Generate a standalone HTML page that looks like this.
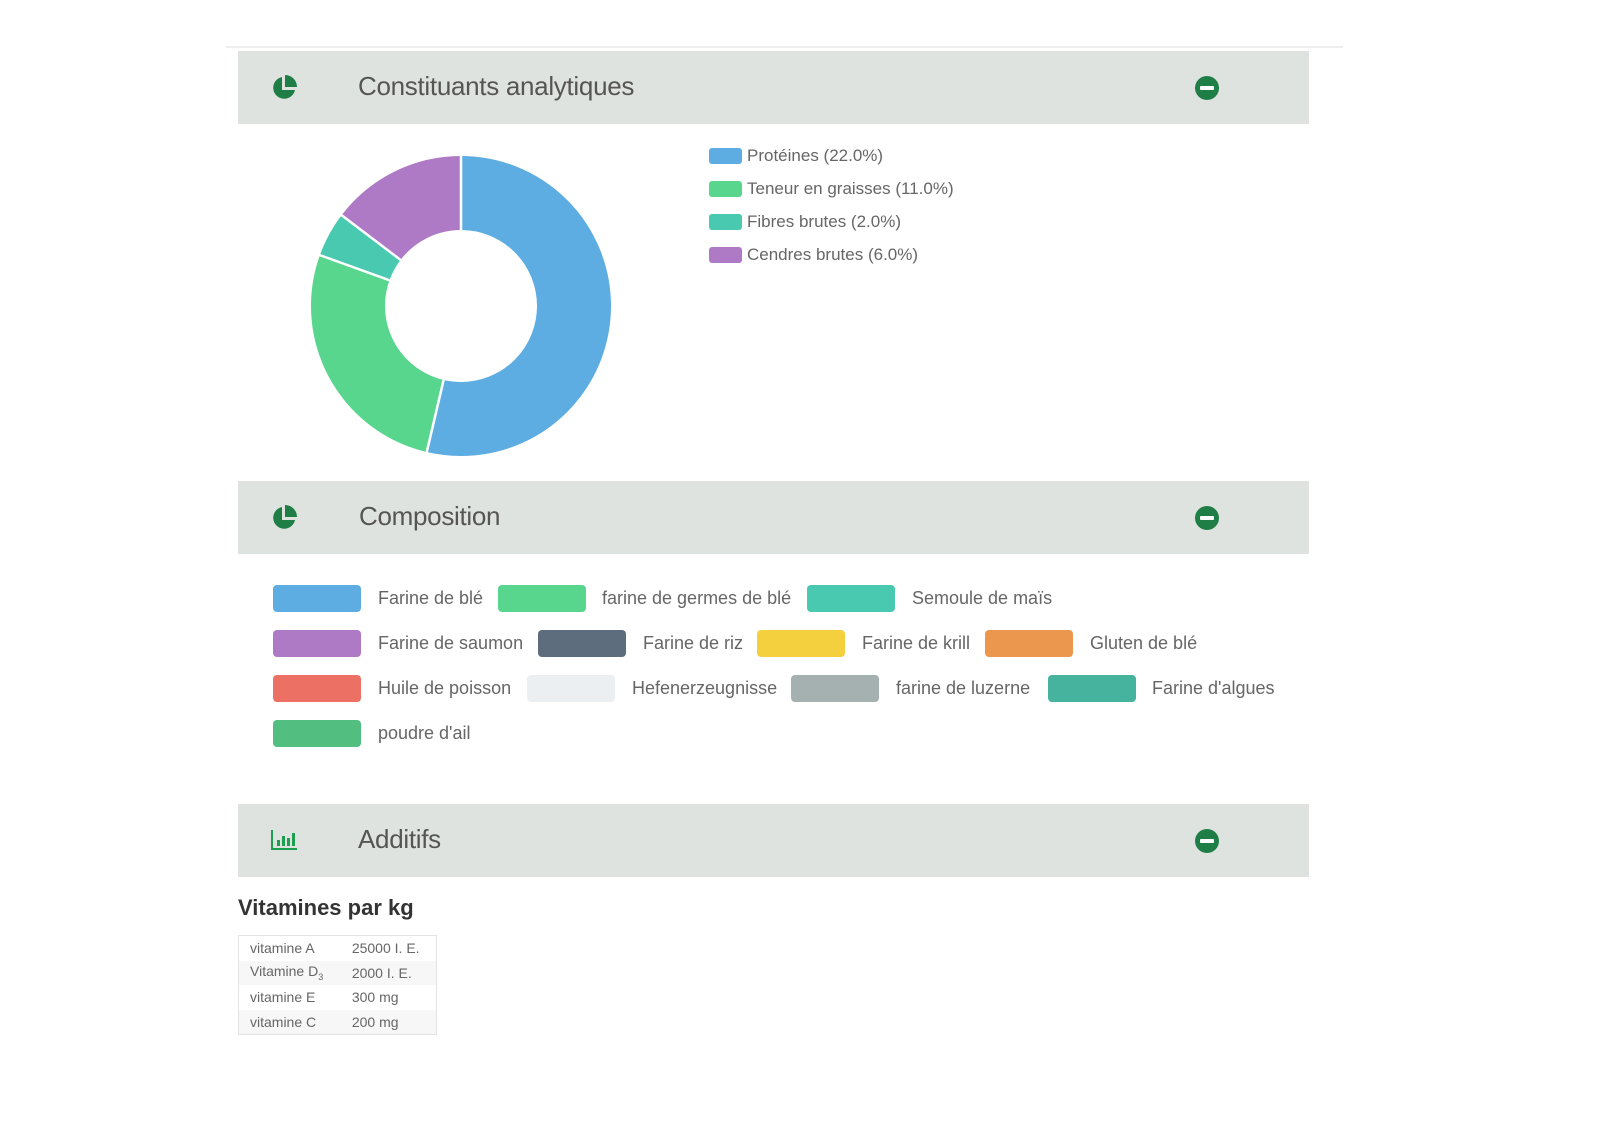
<!DOCTYPE html>
<html><head><meta charset="utf-8"><style>
body{margin:0;width:1600px;height:1131px;background:#fff;font-family:"Liberation Sans",sans-serif;position:relative;overflow:hidden}
.a{position:absolute}
.hdr{position:absolute;left:238px;width:1071px;height:73px;background:#dfe3df}
.ttl{position:absolute;left:120px;top:20px;font-size:26px;color:#555;letter-spacing:-0.3px}
.minus{position:absolute;left:957px;top:25px;width:24px;height:24px;border-radius:50%;background:#1e7e45}
.minus:after{content:"";position:absolute;left:5px;top:10px;width:14px;height:4px;background:#fff;border-radius:1px}
.sw{position:absolute;width:88px;height:27px;border-radius:4px}
.lt{position:absolute;font-size:18px;color:#666;line-height:27px}
.ls{position:absolute;left:709px;width:33px;height:16px;border-radius:3px}
.ll{position:absolute;left:747px;font-size:17px;color:#666;line-height:16px}
table{border-collapse:collapse;font-size:14px;color:#666}
td{height:24.5px;padding:0 0 0 11px}
</style></head><body>
<div class="a" style="left:226px;top:46px;width:1117px;height:2px;background:#eee"></div>

<div class="hdr" style="top:51px"><svg class="a" style="left:33px;top:24px" width="26" height="26" viewBox="0 0 26 26"><path d="M11 2 A11 11 0 1 0 24 15 L11 15 Z" fill="#1e7e45"/><path d="M14 0 A12 12 0 0 1 26 12 L14 12 Z" fill="#1e7e45"/></svg><div class="ttl">Constituants analytiques</div><div class="minus"></div></div>

<svg class="a" style="left:0;top:0" width="700" height="480">
<g transform="rotate(-90 461 306)" fill="none" stroke-width="74">
<circle cx="461" cy="306" r="113" stroke="#5dade2" stroke-dasharray="381 329"/>
<circle cx="461" cy="306" r="113" stroke="#58d68d" stroke-dasharray="190.5 519.5" stroke-dashoffset="-381"/>
<circle cx="461" cy="306" r="113" stroke="#48c9b0" stroke-dasharray="34.6 675.4" stroke-dashoffset="-571.5"/>
<circle cx="461" cy="306" r="113" stroke="#af7ac5" stroke-dasharray="104 606" stroke-dashoffset="-606.1"/>
</g>
<g stroke="#fff" stroke-width="2.5">
<line x1="461" y1="230" x2="461" y2="154"/>
<line x1="443.6" y1="380" x2="426.3" y2="454"/>
<line x1="389.5" y1="280.3" x2="318" y2="254.5"/>
<line x1="400.5" y1="259.9" x2="340" y2="214"/>
</g></svg>

<div class="ls" style="top:148px;background:#5dade2"></div><div class="ll" style="top:148px">Protéines (22.0%)</div>
<div class="ls" style="top:181px;background:#58d68d"></div><div class="ll" style="top:181px">Teneur en graisses (11.0%)</div>
<div class="ls" style="top:214px;background:#48c9b0"></div><div class="ll" style="top:214px">Fibres brutes (2.0%)</div>
<div class="ls" style="top:247px;background:#af7ac5"></div><div class="ll" style="top:247px">Cendres brutes (6.0%)</div>

<div class="hdr" style="top:481px"><svg class="a" style="left:33px;top:24px" width="26" height="26" viewBox="0 0 26 26"><path d="M11 2 A11 11 0 1 0 24 15 L11 15 Z" fill="#1e7e45"/><path d="M14 0 A12 12 0 0 1 26 12 L14 12 Z" fill="#1e7e45"/></svg><div class="ttl" style="left:121px">Composition</div><div class="minus"></div></div>

<div class="sw" style="left:273px;top:585px;background:#5dade2"></div><div class="lt" style="left:378px;top:585px">Farine de blé</div>
<div class="sw" style="left:498px;top:585px;background:#58d68d"></div><div class="lt" style="left:602px;top:585px">farine de germes de blé</div>
<div class="sw" style="left:807px;top:585px;background:#48c9b0"></div><div class="lt" style="left:912px;top:585px">Semoule de maïs</div>
<div class="sw" style="left:273px;top:630px;background:#af7ac5"></div><div class="lt" style="left:378px;top:630px">Farine de saumon</div>
<div class="sw" style="left:538px;top:630px;background:#5d6d7e"></div><div class="lt" style="left:643px;top:630px">Farine de riz</div>
<div class="sw" style="left:757px;top:630px;background:#f4d03f"></div><div class="lt" style="left:862px;top:630px">Farine de krill</div>
<div class="sw" style="left:985px;top:630px;background:#eb984e"></div><div class="lt" style="left:1090px;top:630px">Gluten de blé</div>
<div class="sw" style="left:273px;top:675px;background:#ec7063"></div><div class="lt" style="left:378px;top:675px">Huile de poisson</div>
<div class="sw" style="left:527px;top:675px;background:#eceff1"></div><div class="lt" style="left:632px;top:675px">Hefenerzeugnisse</div>
<div class="sw" style="left:791px;top:675px;background:#a5b1b1"></div><div class="lt" style="left:896px;top:675px">farine de luzerne</div>
<div class="sw" style="left:1048px;top:675px;background:#45b39d"></div><div class="lt" style="left:1152px;top:675px">Farine d'algues</div>
<div class="sw" style="left:273px;top:720px;background:#52be80"></div><div class="lt" style="left:378px;top:720px">poudre d'ail</div>

<div class="hdr" style="top:804px"><svg class="a" style="left:33px;top:26px" width="26" height="20" viewBox="0 0 26 20"><g fill="#1e9e50"><rect x="0" y="0" width="2" height="20"/><rect x="0" y="18" width="26" height="2"/><rect x="6" y="10" width="3" height="6"/><rect x="11" y="6" width="3" height="10"/><rect x="16" y="8" width="3" height="8"/><rect x="21" y="3" width="3" height="13"/></g></svg><div class="ttl">Additifs</div><div class="minus"></div></div>

<div class="a" style="left:238px;top:895px;font-size:22px;font-weight:bold;color:#333">Vitamines par kg</div>
<table class="a" style="left:238px;top:935px;width:199px;border:1px solid #e3e3e3">
<tr><td>vitamine A</td><td>25000 I. E.</td></tr>
<tr style="background:#f7f7f7"><td>Vitamine D<sub style="font-size:9px">3</sub></td><td>2000 I. E.</td></tr>
<tr><td>vitamine E</td><td>300 mg</td></tr>
<tr style="background:#f7f7f7"><td>vitamine C</td><td>200 mg</td></tr>
</table>
</body></html>
